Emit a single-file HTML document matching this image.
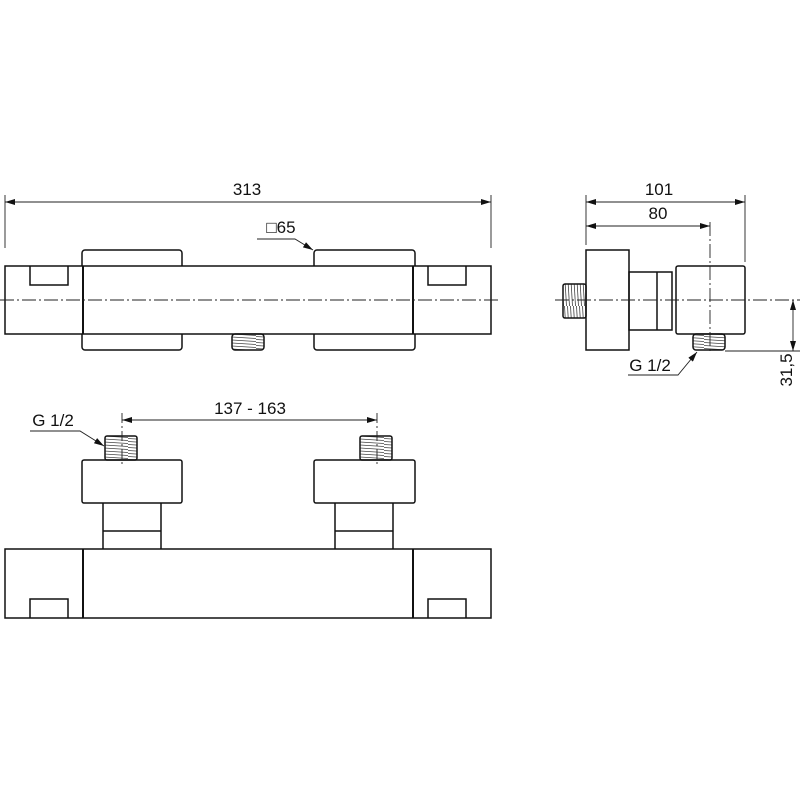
<!DOCTYPE html>
<html><head><style>body{margin:0;background:#fff}svg{display:block}text{font-family:"Liberation Sans",sans-serif;fill:#111}</style></head><body>
<svg width="800" height="800" viewBox="0 0 800 800" xmlns="http://www.w3.org/2000/svg">
<defs>
<marker id="a" viewBox="0 0 10 6" refX="10" refY="3" markerWidth="11" markerHeight="6" orient="auto-start-reverse" markerUnits="userSpaceOnUse"><path d="M0,0L10,3L0,6Z" fill="#111"/></marker>
<pattern id="th" width="32" height="3" patternUnits="userSpaceOnUse"><line x1="0" y1="0.5" x2="32" y2="2.5" stroke="#444" stroke-width="0.8"/></pattern>
<pattern id="tv" width="3" height="34" patternUnits="userSpaceOnUse"><line x1="0.5" y1="0" x2="2.5" y2="34" stroke="#444" stroke-width="0.8"/></pattern>
</defs>
<g fill="none" stroke="#111" stroke-width="1.5">
<rect x="82" y="250" width="100" height="20" rx="3"/>
<rect x="314" y="250" width="101" height="20" rx="3"/>
<rect x="82" y="330" width="100" height="20" rx="3"/>
<rect x="314" y="330" width="101" height="20" rx="3"/>
<rect x="5" y="266" width="486" height="68" fill="#fff"/>
<line x1="83" y1="266" x2="83" y2="334" stroke-width="2"/>
<line x1="413" y1="266" x2="413" y2="334" stroke-width="2"/>
<path d="M30 266V285H68V266M428 266V285H466V266"/>
<rect x="232" y="334" width="32" height="16" rx="3" fill="url(#th)"/>
<rect x="82" y="460" width="100" height="43" rx="2"/>
<rect x="314" y="460" width="101" height="43" rx="2"/>
<path d="M103 503V549M161 503V549M103 531H161M335 503V549M393 503V549M335 531H393"/>
<rect x="105" y="436" width="32" height="24" rx="2" fill="url(#th)"/>
<rect x="360" y="436" width="32" height="24" rx="2" fill="url(#th)"/>
<rect x="5" y="549" width="486" height="69"/>
<line x1="83" y1="549" x2="83" y2="618" stroke-width="2"/>
<line x1="413" y1="549" x2="413" y2="618" stroke-width="2"/>
<path d="M30 618V599H68V618M428 618V599H466V618"/>
<rect x="586" y="250" width="43" height="100"/>
<rect x="629" y="272" width="43" height="58"/>
<line x1="657" y1="272" x2="657" y2="330"/>
<rect x="676" y="266" width="69" height="68" rx="2"/>
<rect x="563" y="284" width="23" height="34" rx="2" fill="url(#tv)"/>
<rect x="693" y="334" width="32" height="16" rx="3" fill="url(#th)"/>
</g>
<g fill="none" stroke="#222" stroke-width="0.9">
<line x1="0" y1="300" x2="500" y2="300" stroke-dasharray="14 3 2 3"/>
<line x1="555" y1="300" x2="800" y2="300" stroke-dasharray="14 3 2 3"/>
<line x1="710" y1="222" x2="710" y2="352" stroke-dasharray="14 3 2 3"/>
<line x1="122" y1="413" x2="122" y2="467" stroke-dasharray="10 3 2 3"/>
<line x1="377" y1="413" x2="377" y2="467" stroke-dasharray="10 3 2 3"/>
<path d="M5 195V248M491 195V248M586 195V245M745 195V262M725 351H800"/>
<line x1="5" y1="202" x2="491" y2="202" marker-start="url(#a)" marker-end="url(#a)"/>
<line x1="586" y1="202" x2="745" y2="202" marker-start="url(#a)" marker-end="url(#a)"/>
<line x1="586" y1="226" x2="710" y2="226" marker-start="url(#a)" marker-end="url(#a)"/>
<line x1="122" y1="420" x2="377" y2="420" marker-start="url(#a)" marker-end="url(#a)"/>
<line x1="793" y1="300" x2="793" y2="351" marker-start="url(#a)" marker-end="url(#a)"/>
<polyline points="257,239 295,239 313,250" marker-end="url(#a)"/>
<polyline points="628,375 678,375 697,352" marker-end="url(#a)"/>
<polyline points="30,431 80,431 104,446" marker-end="url(#a)"/>
</g>
<g font-size="17" text-anchor="middle">
<text x="247" y="195">313</text>
<text x="281" y="233">□65</text>
<text x="659" y="195">101</text>
<text x="658" y="219">80</text>
<text x="250" y="414">137 - 163</text>
<text x="53" y="426">G 1/2</text>
<text x="650" y="371">G 1/2</text>
<text transform="translate(792,370) rotate(-90)">31,5</text>
</g>
</svg>
</body></html>
